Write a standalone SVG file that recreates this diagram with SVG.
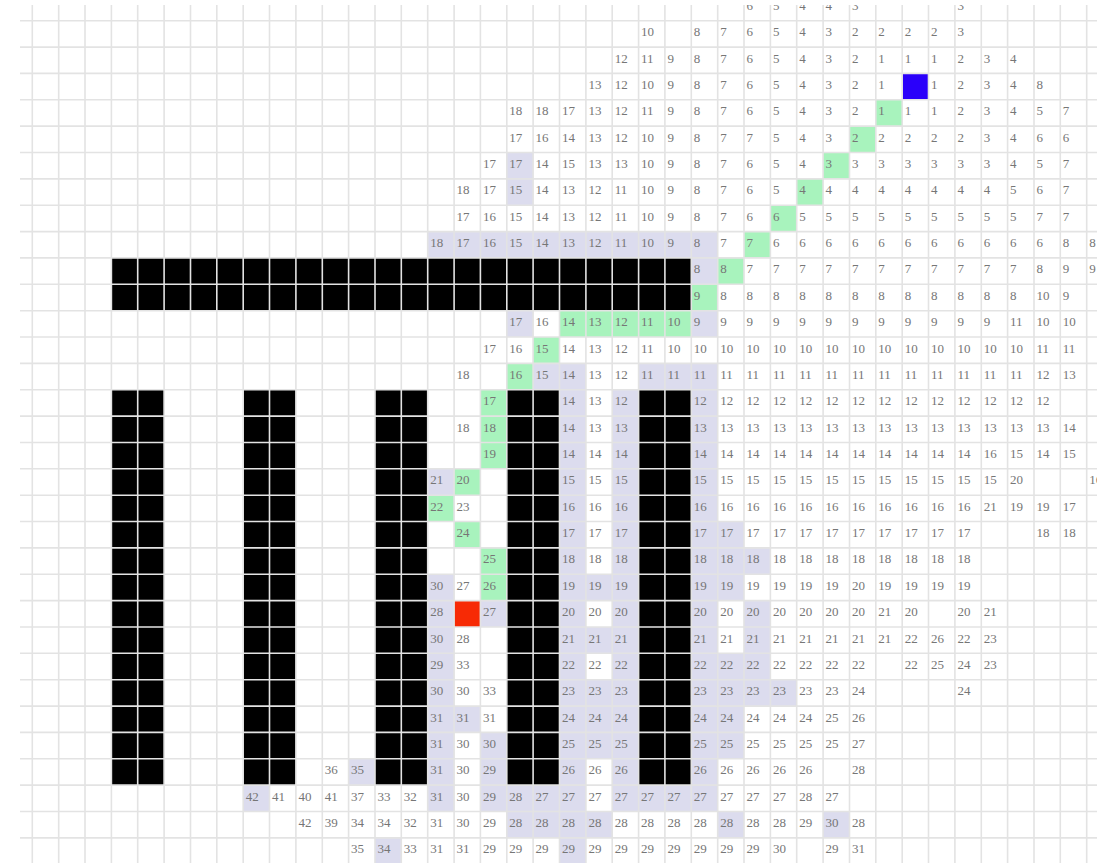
<svg xmlns="http://www.w3.org/2000/svg" width="1115" height="863" viewBox="0 0 1115 863">
<defs>
<clipPath id="clip"><rect x="20" y="5" width="1077" height="858"/></clipPath>
<style>
.l{fill:#dcdcee}
.g{fill:#a8f3bd}
.k{fill:#000}
.grid{fill:none;stroke:#e3e3e3;stroke-width:1.6}
.t text{font-family:"Liberation Serif","Times New Roman",serif;font-size:13px;fill:#767676}
</style>
</defs>
<rect width="1115" height="863" fill="#fff"/>
<g clip-path="url(#clip)">
<g id="lavender">
<rect class="l" x="506.8" y="152.5" width="26.4" height="52.7"/>
<rect class="l" x="427.7" y="231.6" width="290" height="26.4"/>
<rect class="l" x="691.3" y="257.9" width="26.4" height="26.4"/>
<rect class="l" x="506.8" y="310.7" width="26.4" height="26.4"/>
<rect class="l" x="691.3" y="310.7" width="26.4" height="26.4"/>
<rect class="l" x="533.1" y="363.4" width="52.7" height="26.4"/>
<rect class="l" x="638.6" y="363.4" width="79.1" height="26.4"/>
<rect class="l" x="559.5" y="389.7" width="26.4" height="474"/>
<rect class="l" x="612.2" y="389.7" width="26.4" height="421.8"/>
<rect class="l" x="691.3" y="389.7" width="26.4" height="421.8"/>
<rect class="l" x="427.7" y="468.8" width="26.4" height="26.4"/>
<rect class="l" x="427.7" y="574.3" width="26.4" height="237.2"/>
<rect class="l" x="717.7" y="521.5" width="26.4" height="79.1"/>
<rect class="l" x="717.7" y="653.3" width="26.4" height="105.4"/>
<rect class="l" x="744.0" y="547.9" width="26.4" height="26.4"/>
<rect class="l" x="744.0" y="600.6" width="26.4" height="105.4"/>
<rect class="l" x="770.4" y="679.7" width="26.4" height="26.4"/>
<rect class="l" x="585.9" y="574.3" width="26.4" height="26.4"/>
<rect class="l" x="585.9" y="627.0" width="26.4" height="26.4"/>
<rect class="l" x="585.9" y="679.7" width="26.4" height="79.1"/>
<rect class="l" x="480.4" y="600.6" width="26.4" height="26.4"/>
<rect class="l" x="480.4" y="732.4" width="26.4" height="79.1"/>
<rect class="l" x="454.1" y="706.1" width="26.4" height="26.4"/>
<rect class="l" x="348.6" y="758.8" width="26.4" height="26.4"/>
<rect class="l" x="243.2" y="785.1" width="26.4" height="26.4"/>
<rect class="l" x="506.8" y="785.1" width="52.7" height="26.4"/>
<rect class="l" x="638.6" y="785.1" width="52.7" height="26.4"/>
<rect class="l" x="506.8" y="811.5" width="105.4" height="26.4"/>
<rect class="l" x="717.7" y="811.5" width="26.4" height="26.4"/>
<rect class="l" x="823.1" y="811.5" width="26.4" height="26.4"/>
<rect class="l" x="375.0" y="837.9" width="26.4" height="26.4"/>
</g>
<g id="path-cells">
<rect class="g" x="875.8" y="99.8" width="26.4" height="26.4"/>
<rect class="g" x="849.5" y="126.1" width="26.4" height="26.4"/>
<rect class="g" x="823.1" y="152.5" width="26.4" height="26.4"/>
<rect class="g" x="796.7" y="178.9" width="26.4" height="26.4"/>
<rect class="g" x="770.4" y="205.2" width="26.4" height="26.4"/>
<rect class="g" x="744.0" y="231.6" width="26.4" height="26.4"/>
<rect class="g" x="717.7" y="257.9" width="26.4" height="26.4"/>
<rect class="g" x="691.3" y="284.3" width="26.4" height="26.4"/>
<rect class="g" x="559.5" y="310.7" width="131.8" height="26.4"/>
<rect class="g" x="533.1" y="337.0" width="26.4" height="26.4"/>
<rect class="g" x="506.8" y="363.4" width="26.4" height="26.4"/>
<rect class="g" x="480.4" y="389.7" width="26.4" height="79.1"/>
<rect class="g" x="454.1" y="468.8" width="26.4" height="26.4"/>
<rect class="g" x="427.7" y="495.2" width="26.4" height="26.4"/>
<rect class="g" x="454.1" y="521.5" width="26.4" height="26.4"/>
<rect class="g" x="480.4" y="547.9" width="26.4" height="52.7"/>
</g>
<g id="walls">
<rect class="k" x="111.4" y="257.9" width="580" height="52.7"/>
<rect class="k" x="111.4" y="389.7" width="52.7" height="395.4"/>
<rect class="k" x="243.2" y="389.7" width="52.7" height="395.4"/>
<rect class="k" x="375.0" y="389.7" width="52.7" height="395.4"/>
<rect class="k" x="506.8" y="389.7" width="52.7" height="395.4"/>
<rect class="k" x="638.6" y="389.7" width="52.7" height="395.4"/>
</g>
<rect id="start" x="902.2" y="73.4" width="26.4" height="26.4" fill="#2a00fa"/>
<rect id="goal" x="454.1" y="600.6" width="26.4" height="26.4" fill="#f72a05"/>
<path class="grid" d="M32.3 5V863M58.7 5V863M85 5V863M111.4 5V863M137.7 5V863M164.1 5V863M190.5 5V863M216.8 5V863M243.2 5V863M269.5 5V863M295.9 5V863M322.3 5V863M348.6 5V863M375 5V863M401.3 5V863M427.7 5V863M454.1 5V863M480.4 5V863M506.8 5V863M533.1 5V863M559.5 5V863M585.9 5V863M612.2 5V863M638.6 5V863M664.9 5V863M691.3 5V863M717.7 5V863M744 5V863M770.4 5V863M796.7 5V863M823.1 5V863M849.5 5V863M875.8 5V863M902.2 5V863M928.5 5V863M954.9 5V863M981.3 5V863M1007.6 5V863M1034 5V863M1060.3 5V863M1086.7 5V863M20 20.7H1097M20 47.1H1097M20 73.4H1097M20 99.8H1097M20 126.1H1097M20 152.5H1097M20 178.9H1097M20 205.2H1097M20 231.6H1097M20 257.9H1097M20 284.3H1097M20 310.7H1097M20 337H1097M20 363.4H1097M20 389.7H1097M20 416.1H1097M20 442.5H1097M20 468.8H1097M20 495.2H1097M20 521.5H1097M20 547.9H1097M20 574.3H1097M20 600.6H1097M20 627H1097M20 653.3H1097M20 679.7H1097M20 706.1H1097M20 732.4H1097M20 758.8H1097M20 785.1H1097M20 811.5H1097M20 837.9H1097"/>
<g class="t" id="numbers">
<g transform="translate(0,9.8)"><text x="746.5">6</text><text x="772.9">5</text><text x="799.2">4</text><text x="825.6">4</text><text x="852">3</text><text x="957.4">3</text></g>
<g transform="translate(0,36.2)"><text x="641.1">10</text><text x="693.8">8</text><text x="720.2">7</text><text x="746.5">6</text><text x="772.9">5</text><text x="799.2">4</text><text x="825.6">3</text><text x="852">2</text><text x="878.3">2</text><text x="904.7">2</text><text x="931">2</text><text x="957.4">3</text></g>
<g transform="translate(0,62.6)"><text x="614.7">12</text><text x="641.1">11</text><text x="667.4">9</text><text x="693.8">8</text><text x="720.2">7</text><text x="746.5">6</text><text x="772.9">5</text><text x="799.2">4</text><text x="825.6">3</text><text x="852">2</text><text x="878.3">1</text><text x="904.7">1</text><text x="931">1</text><text x="957.4">2</text><text x="983.8">3</text><text x="1010.1">4</text></g>
<g transform="translate(0,88.9)"><text x="588.4">13</text><text x="614.7">12</text><text x="641.1">10</text><text x="667.4">9</text><text x="693.8">8</text><text x="720.2">7</text><text x="746.5">6</text><text x="772.9">5</text><text x="799.2">4</text><text x="825.6">3</text><text x="852">2</text><text x="878.3">1</text><text x="931">1</text><text x="957.4">2</text><text x="983.8">3</text><text x="1010.1">4</text><text x="1036.5">8</text></g>
<g transform="translate(0,115.3)"><text x="509.3">18</text><text x="535.6">18</text><text x="562">17</text><text x="588.4">13</text><text x="614.7">12</text><text x="641.1">11</text><text x="667.4">9</text><text x="693.8">8</text><text x="720.2">7</text><text x="746.5">6</text><text x="772.9">5</text><text x="799.2">4</text><text x="825.6">3</text><text x="852">2</text><text x="878.3">1</text><text x="904.7">1</text><text x="931">1</text><text x="957.4">2</text><text x="983.8">3</text><text x="1010.1">4</text><text x="1036.5">5</text><text x="1062.8">7</text></g>
<g transform="translate(0,141.6)"><text x="509.3">17</text><text x="535.6">16</text><text x="562">14</text><text x="588.4">13</text><text x="614.7">12</text><text x="641.1">10</text><text x="667.4">9</text><text x="693.8">8</text><text x="720.2">7</text><text x="746.5">7</text><text x="772.9">5</text><text x="799.2">4</text><text x="825.6">3</text><text x="852">2</text><text x="878.3">2</text><text x="904.7">2</text><text x="931">2</text><text x="957.4">2</text><text x="983.8">3</text><text x="1010.1">4</text><text x="1036.5">6</text><text x="1062.8">6</text></g>
<g transform="translate(0,168)"><text x="482.9">17</text><text x="509.3">17</text><text x="535.6">14</text><text x="562">15</text><text x="588.4">13</text><text x="614.7">13</text><text x="641.1">10</text><text x="667.4">9</text><text x="693.8">8</text><text x="720.2">7</text><text x="746.5">6</text><text x="772.9">5</text><text x="799.2">4</text><text x="825.6">3</text><text x="852">3</text><text x="878.3">3</text><text x="904.7">3</text><text x="931">3</text><text x="957.4">3</text><text x="983.8">3</text><text x="1010.1">4</text><text x="1036.5">5</text><text x="1062.8">7</text></g>
<g transform="translate(0,194.4)"><text x="456.6">18</text><text x="482.9">17</text><text x="509.3">15</text><text x="535.6">14</text><text x="562">13</text><text x="588.4">12</text><text x="614.7">11</text><text x="641.1">10</text><text x="667.4">9</text><text x="693.8">8</text><text x="720.2">7</text><text x="746.5">6</text><text x="772.9">5</text><text x="799.2">4</text><text x="825.6">4</text><text x="852">4</text><text x="878.3">4</text><text x="904.7">4</text><text x="931">4</text><text x="957.4">4</text><text x="983.8">4</text><text x="1010.1">5</text><text x="1036.5">6</text><text x="1062.8">7</text></g>
<g transform="translate(0,220.7)"><text x="456.6">17</text><text x="482.9">16</text><text x="509.3">15</text><text x="535.6">14</text><text x="562">13</text><text x="588.4">12</text><text x="614.7">11</text><text x="641.1">10</text><text x="667.4">9</text><text x="693.8">8</text><text x="720.2">7</text><text x="746.5">6</text><text x="772.9">6</text><text x="799.2">5</text><text x="825.6">5</text><text x="852">5</text><text x="878.3">5</text><text x="904.7">5</text><text x="931">5</text><text x="957.4">5</text><text x="983.8">5</text><text x="1010.1">5</text><text x="1036.5">7</text><text x="1062.8">7</text></g>
<g transform="translate(0,247.1)"><text x="430.2">18</text><text x="456.6">17</text><text x="482.9">16</text><text x="509.3">15</text><text x="535.6">14</text><text x="562">13</text><text x="588.4">12</text><text x="614.7">11</text><text x="641.1">10</text><text x="667.4">9</text><text x="693.8">8</text><text x="720.2">7</text><text x="746.5">7</text><text x="772.9">6</text><text x="799.2">6</text><text x="825.6">6</text><text x="852">6</text><text x="878.3">6</text><text x="904.7">6</text><text x="931">6</text><text x="957.4">6</text><text x="983.8">6</text><text x="1010.1">6</text><text x="1036.5">6</text><text x="1062.8">8</text><text x="1089.2">8</text></g>
<g transform="translate(0,273.4)"><text x="693.8">8</text><text x="720.2">8</text><text x="746.5">7</text><text x="772.9">7</text><text x="799.2">7</text><text x="825.6">7</text><text x="852">7</text><text x="878.3">7</text><text x="904.7">7</text><text x="931">7</text><text x="957.4">7</text><text x="983.8">7</text><text x="1010.1">7</text><text x="1036.5">8</text><text x="1062.8">9</text><text x="1089.2">9</text></g>
<g transform="translate(0,299.8)"><text x="693.8">9</text><text x="720.2">8</text><text x="746.5">8</text><text x="772.9">8</text><text x="799.2">8</text><text x="825.6">8</text><text x="852">8</text><text x="878.3">8</text><text x="904.7">8</text><text x="931">8</text><text x="957.4">8</text><text x="983.8">8</text><text x="1010.1">8</text><text x="1036.5">10</text><text x="1062.8">9</text></g>
<g transform="translate(0,326.2)"><text x="509.3">17</text><text x="535.6">16</text><text x="562">14</text><text x="588.4">13</text><text x="614.7">12</text><text x="641.1">11</text><text x="667.4">10</text><text x="693.8">9</text><text x="720.2">9</text><text x="746.5">9</text><text x="772.9">9</text><text x="799.2">9</text><text x="825.6">9</text><text x="852">9</text><text x="878.3">9</text><text x="904.7">9</text><text x="931">9</text><text x="957.4">9</text><text x="983.8">9</text><text x="1010.1">11</text><text x="1036.5">10</text><text x="1062.8">10</text></g>
<g transform="translate(0,352.5)"><text x="482.9">17</text><text x="509.3">16</text><text x="535.6">15</text><text x="562">14</text><text x="588.4">13</text><text x="614.7">12</text><text x="641.1">11</text><text x="667.4">10</text><text x="693.8">10</text><text x="720.2">10</text><text x="746.5">10</text><text x="772.9">10</text><text x="799.2">10</text><text x="825.6">10</text><text x="852">10</text><text x="878.3">10</text><text x="904.7">10</text><text x="931">10</text><text x="957.4">10</text><text x="983.8">10</text><text x="1010.1">10</text><text x="1036.5">11</text><text x="1062.8">11</text></g>
<g transform="translate(0,378.9)"><text x="456.6">18</text><text x="509.3">16</text><text x="535.6">15</text><text x="562">14</text><text x="588.4">13</text><text x="614.7">12</text><text x="641.1">11</text><text x="667.4">11</text><text x="693.8">11</text><text x="720.2">11</text><text x="746.5">11</text><text x="772.9">11</text><text x="799.2">11</text><text x="825.6">11</text><text x="852">11</text><text x="878.3">11</text><text x="904.7">11</text><text x="931">11</text><text x="957.4">11</text><text x="983.8">11</text><text x="1010.1">11</text><text x="1036.5">12</text><text x="1062.8">13</text></g>
<g transform="translate(0,405.2)"><text x="482.9">17</text><text x="562">14</text><text x="588.4">13</text><text x="614.7">12</text><text x="693.8">12</text><text x="720.2">12</text><text x="746.5">12</text><text x="772.9">12</text><text x="799.2">12</text><text x="825.6">12</text><text x="852">12</text><text x="878.3">12</text><text x="904.7">12</text><text x="931">12</text><text x="957.4">12</text><text x="983.8">12</text><text x="1010.1">12</text><text x="1036.5">12</text></g>
<g transform="translate(0,431.6)"><text x="456.6">18</text><text x="482.9">18</text><text x="562">14</text><text x="588.4">13</text><text x="614.7">13</text><text x="693.8">13</text><text x="720.2">13</text><text x="746.5">13</text><text x="772.9">13</text><text x="799.2">13</text><text x="825.6">13</text><text x="852">13</text><text x="878.3">13</text><text x="904.7">13</text><text x="931">13</text><text x="957.4">13</text><text x="983.8">13</text><text x="1010.1">13</text><text x="1036.5">13</text><text x="1062.8">14</text></g>
<g transform="translate(0,458)"><text x="482.9">19</text><text x="562">14</text><text x="588.4">14</text><text x="614.7">14</text><text x="693.8">14</text><text x="720.2">14</text><text x="746.5">14</text><text x="772.9">14</text><text x="799.2">14</text><text x="825.6">14</text><text x="852">14</text><text x="878.3">14</text><text x="904.7">14</text><text x="931">14</text><text x="957.4">14</text><text x="983.8">16</text><text x="1010.1">15</text><text x="1036.5">14</text><text x="1062.8">15</text></g>
<g transform="translate(0,484.3)"><text x="430.2">21</text><text x="456.6">20</text><text x="562">15</text><text x="588.4">15</text><text x="614.7">15</text><text x="693.8">15</text><text x="720.2">15</text><text x="746.5">15</text><text x="772.9">15</text><text x="799.2">15</text><text x="825.6">15</text><text x="852">15</text><text x="878.3">15</text><text x="904.7">15</text><text x="931">15</text><text x="957.4">15</text><text x="983.8">15</text><text x="1010.1">20</text><text x="1089.2">16</text></g>
<g transform="translate(0,510.7)"><text x="430.2">22</text><text x="456.6">23</text><text x="562">16</text><text x="588.4">16</text><text x="614.7">16</text><text x="693.8">16</text><text x="720.2">16</text><text x="746.5">16</text><text x="772.9">16</text><text x="799.2">16</text><text x="825.6">16</text><text x="852">16</text><text x="878.3">16</text><text x="904.7">16</text><text x="931">16</text><text x="957.4">16</text><text x="983.8">21</text><text x="1010.1">19</text><text x="1036.5">19</text><text x="1062.8">17</text></g>
<g transform="translate(0,537)"><text x="456.6">24</text><text x="562">17</text><text x="588.4">17</text><text x="614.7">17</text><text x="693.8">17</text><text x="720.2">17</text><text x="746.5">17</text><text x="772.9">17</text><text x="799.2">17</text><text x="825.6">17</text><text x="852">17</text><text x="878.3">17</text><text x="904.7">17</text><text x="931">17</text><text x="957.4">17</text><text x="1036.5">18</text><text x="1062.8">18</text></g>
<g transform="translate(0,563.4)"><text x="482.9">25</text><text x="562">18</text><text x="588.4">18</text><text x="614.7">18</text><text x="693.8">18</text><text x="720.2">18</text><text x="746.5">18</text><text x="772.9">18</text><text x="799.2">18</text><text x="825.6">18</text><text x="852">18</text><text x="878.3">18</text><text x="904.7">18</text><text x="931">18</text><text x="957.4">18</text></g>
<g transform="translate(0,589.8)"><text x="430.2">30</text><text x="456.6">27</text><text x="482.9">26</text><text x="562">19</text><text x="588.4">19</text><text x="614.7">19</text><text x="693.8">19</text><text x="720.2">19</text><text x="746.5">19</text><text x="772.9">19</text><text x="799.2">19</text><text x="825.6">19</text><text x="852">20</text><text x="878.3">19</text><text x="904.7">19</text><text x="931">19</text><text x="957.4">19</text></g>
<g transform="translate(0,616.1)"><text x="430.2">28</text><text x="482.9">27</text><text x="562">20</text><text x="588.4">20</text><text x="614.7">20</text><text x="693.8">20</text><text x="720.2">20</text><text x="746.5">20</text><text x="772.9">20</text><text x="799.2">20</text><text x="825.6">20</text><text x="852">20</text><text x="878.3">21</text><text x="904.7">20</text><text x="957.4">20</text><text x="983.8">21</text></g>
<g transform="translate(0,642.5)"><text x="430.2">30</text><text x="456.6">28</text><text x="562">21</text><text x="588.4">21</text><text x="614.7">21</text><text x="693.8">21</text><text x="720.2">21</text><text x="746.5">21</text><text x="772.9">21</text><text x="799.2">21</text><text x="825.6">21</text><text x="852">21</text><text x="878.3">21</text><text x="904.7">22</text><text x="931">26</text><text x="957.4">22</text><text x="983.8">23</text></g>
<g transform="translate(0,668.8)"><text x="430.2">29</text><text x="456.6">33</text><text x="562">22</text><text x="588.4">22</text><text x="614.7">22</text><text x="693.8">22</text><text x="720.2">22</text><text x="746.5">22</text><text x="772.9">22</text><text x="799.2">22</text><text x="825.6">22</text><text x="852">22</text><text x="904.7">22</text><text x="931">25</text><text x="957.4">24</text><text x="983.8">23</text></g>
<g transform="translate(0,695.2)"><text x="430.2">30</text><text x="456.6">30</text><text x="482.9">33</text><text x="562">23</text><text x="588.4">23</text><text x="614.7">23</text><text x="693.8">23</text><text x="720.2">23</text><text x="746.5">23</text><text x="772.9">23</text><text x="799.2">23</text><text x="825.6">23</text><text x="852">24</text><text x="957.4">24</text></g>
<g transform="translate(0,721.6)"><text x="430.2">31</text><text x="456.6">31</text><text x="482.9">31</text><text x="562">24</text><text x="588.4">24</text><text x="614.7">24</text><text x="693.8">24</text><text x="720.2">24</text><text x="746.5">24</text><text x="772.9">24</text><text x="799.2">24</text><text x="825.6">25</text><text x="852">26</text></g>
<g transform="translate(0,747.9)"><text x="430.2">31</text><text x="456.6">30</text><text x="482.9">30</text><text x="562">25</text><text x="588.4">25</text><text x="614.7">25</text><text x="693.8">25</text><text x="720.2">25</text><text x="746.5">25</text><text x="772.9">25</text><text x="799.2">25</text><text x="825.6">25</text><text x="852">27</text></g>
<g transform="translate(0,774.3)"><text x="324.8">36</text><text x="351.1">35</text><text x="430.2">31</text><text x="456.6">30</text><text x="482.9">29</text><text x="562">26</text><text x="588.4">26</text><text x="614.7">26</text><text x="693.8">26</text><text x="720.2">26</text><text x="746.5">26</text><text x="772.9">26</text><text x="799.2">26</text><text x="852">28</text></g>
<g transform="translate(0,800.6)"><text x="245.7">42</text><text x="272">41</text><text x="298.4">40</text><text x="324.8">41</text><text x="351.1">37</text><text x="377.5">33</text><text x="403.8">32</text><text x="430.2">31</text><text x="456.6">30</text><text x="482.9">29</text><text x="509.3">28</text><text x="535.6">27</text><text x="562">27</text><text x="588.4">27</text><text x="614.7">27</text><text x="641.1">27</text><text x="667.4">27</text><text x="693.8">27</text><text x="720.2">27</text><text x="746.5">27</text><text x="772.9">27</text><text x="799.2">28</text><text x="825.6">27</text></g>
<g transform="translate(0,827)"><text x="298.4">42</text><text x="324.8">39</text><text x="351.1">34</text><text x="377.5">34</text><text x="403.8">32</text><text x="430.2">31</text><text x="456.6">30</text><text x="482.9">29</text><text x="509.3">28</text><text x="535.6">28</text><text x="562">28</text><text x="588.4">28</text><text x="614.7">28</text><text x="641.1">28</text><text x="667.4">28</text><text x="693.8">28</text><text x="720.2">28</text><text x="746.5">28</text><text x="772.9">28</text><text x="799.2">29</text><text x="825.6">30</text><text x="852">28</text></g>
<g transform="translate(0,853.4)"><text x="351.1">35</text><text x="377.5">34</text><text x="403.8">33</text><text x="430.2">31</text><text x="456.6">31</text><text x="482.9">29</text><text x="509.3">29</text><text x="535.6">29</text><text x="562">29</text><text x="588.4">29</text><text x="614.7">29</text><text x="641.1">29</text><text x="667.4">29</text><text x="693.8">29</text><text x="720.2">29</text><text x="746.5">29</text><text x="772.9">30</text><text x="825.6">29</text><text x="852">31</text></g>
</g>
</g>
</svg>
